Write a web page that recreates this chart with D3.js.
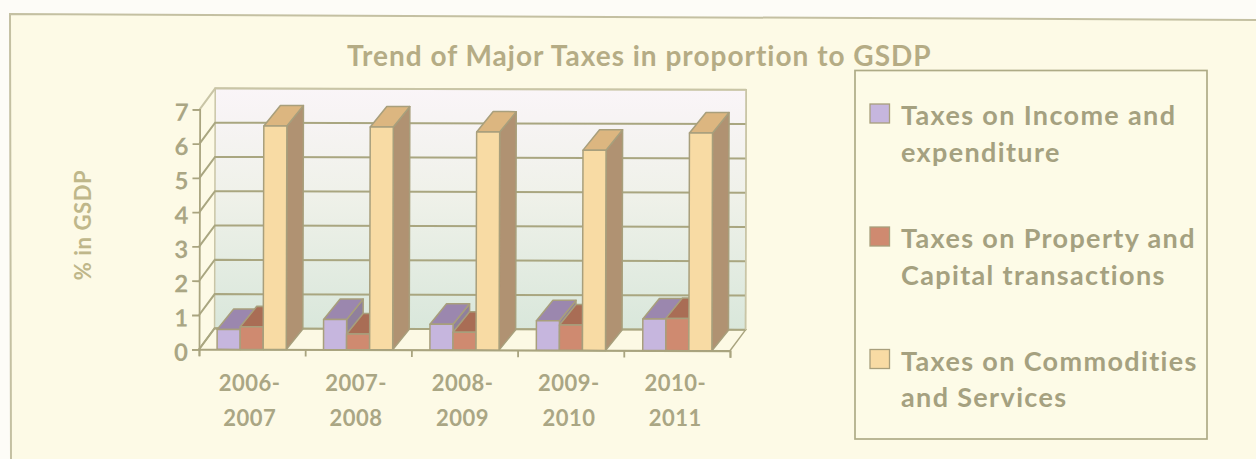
<!DOCTYPE html>
<html>
<head>
<meta charset="utf-8">
<title>Trend of Major Taxes in proportion to GSDP</title>
<script src="https://cdn.jsdelivr.net/npm/d3@7"></script>
<style>
  html, body { margin: 0; padding: 0; background: #fdfcf7; }
  svg { display: block; }
  text { font-family: Lato, "Open Sans", sans-serif; font-weight: 700; fill: #aaa684; }
</style>
</head>
<body>
<svg id="chart" width="1256" height="459"></svg>
<script>
// Share of GSDP by tax head, per financial year
const years = ["2006-2007", "2007-2008", "2008-2009", "2009-2010", "2010-2011"];
const seriesNames = ["income", "property", "commodities"];
const incomeTaxes = [0.58, 0.88, 0.75, 0.86, 0.92];
const propertyTaxes = [0.66, 0.46, 0.52, 0.74, 0.94];
const commodityTaxes = [6.52, 6.50, 6.36, 5.84, 6.35];
const yTicks = [0, 1, 2, 3, 4, 5, 6, 7];

const legendLines = [
  ["Taxes on Income and", "expenditure"],
  ["Taxes on Property and", "Capital transactions"],
  ["Taxes on Commodities", "and Services"]
];
const faces = [
  { front: "#c6b6de", top: "#9b87ae", side: "#90809c" },
  { front: "#cf8a70", top: "#a96d55", side: "#a5705a" },
  { front: "#f8dba4", top: "#dcb680", side: "#b09272" }
];

const ink = "#a9a47f";
const svg = d3.select("#chart");

// Sheet background with its slightly skewed frame
svg.append("path")
  .attr("d", "M10,14 L1257,20 L1257,460 L11,460 Z")
  .attr("fill", "#fdfae6")
  .attr("stroke", "#c4c0a2")
  .attr("stroke-width", 2);

// Wall gradient behind the gridlines
const grad = svg.append("defs").append("linearGradient")
  .attr("id", "wall").attr("x1", 0).attr("y1", 0).attr("x2", 0).attr("y2", 1);
grad.append("stop").attr("offset", "0%").attr("stop-color", "#faf5f8");
grad.append("stop").attr("offset", "45%").attr("stop-color", "#eff1e9");
grad.append("stop").attr("offset", "100%").attr("stop-color", "#d9e7db");

const frontLeft = 199, frontRight = 730, baseY = 349.3, topY = 109.3;
const wallDx = 15.5, wallDy = 21, barDx = 16.5, barDy = 20.5;

const y = d3.scaleLinear().domain([0, 7]).range([baseY, topY]);
const x = d3.scaleBand().domain(years).range([frontLeft, frontRight]).paddingInner(0.35).paddingOuter(0.17);
const xSeries = d3.scaleBand().domain(seriesNames).range([0, x.bandwidth()]);
const xEdges = d3.scaleLinear().domain([0, years.length]).range([frontLeft, frontRight]);

const plot = svg.append("g").attr("transform", `rotate(0.16 ${frontLeft} ${baseY})`);

// Back wall, floor and gridlines
plot.append("rect")
  .attr("x", frontLeft + wallDx).attr("y", y(7) - wallDy)
  .attr("width", frontRight - frontLeft).attr("height", y(0) - y(7))
  .attr("fill", "url(#wall)").attr("stroke", "#c9c5a6").attr("stroke-width", 1.5);
plot.append("path")
  .attr("d", d3.line()([
    [frontLeft, y(0)], [frontRight, y(0)],
    [frontRight + wallDx, y(0) - wallDy], [frontLeft + wallDx, y(0) - wallDy]
  ]) + "Z")
  .attr("fill", "#fcf9e4").attr("stroke", ink).attr("stroke-width", 1.5);

const gridGroup = plot.append("g");
gridGroup.selectAll("path").data(yTicks).join("path")
  .attr("d", t => d3.line()([
    [frontLeft, y(t)],
    [frontLeft + wallDx, y(t) - wallDy],
    [frontRight + wallDx, y(t) - wallDy]
  ]))
  .attr("fill", "none")
  .attr("stroke", t => t === 7 ? "#c9c5a6" : "#a9a680")
  .attr("stroke-width", 2);
plot.append("line")
  .attr("x1", frontRight + wallDx).attr("x2", frontRight + wallDx)
  .attr("y1", y(7) - wallDy).attr("y2", y(0) - wallDy)
  .attr("stroke", "#c9c5a6").attr("stroke-width", 1.5);

// Extruded columns, painted left to right so nearer faces overlap
const seriesValues = [incomeTaxes, propertyTaxes, commodityTaxes];
const columns = years.flatMap((year, i) =>
  seriesNames.map((name, s) => ({ year, name, s, value: seriesValues[s][i] })));

const bar = plot.append("g").selectAll("g").data(columns).join("g")
  .attr("stroke", "#a89f7c").attr("stroke-width", 1.5).attr("stroke-linejoin", "round");
const barLeft = d => x(d.year) + xSeries(d.name);
const barRight = d => barLeft(d) + xSeries.bandwidth();

bar.append("path")
  .attr("fill", d => faces[d.s].side)
  .attr("d", d => d3.line()([
    [barRight(d), y(0)], [barRight(d) + barDx, y(0) - barDy],
    [barRight(d) + barDx, y(d.value) - barDy], [barRight(d), y(d.value)]
  ]) + "Z");
bar.append("path")
  .attr("fill", d => faces[d.s].top)
  .attr("d", d => d3.line()([
    [barLeft(d), y(d.value)], [barLeft(d) + barDx, y(d.value) - barDy],
    [barRight(d) + barDx, y(d.value) - barDy], [barRight(d), y(d.value)]
  ]) + "Z");
bar.append("rect")
  .attr("fill", d => faces[d.s].front)
  .attr("x", barLeft).attr("y", d => y(d.value))
  .attr("width", xSeries.bandwidth()).attr("height", d => y(0) - y(d.value));

// Axes
const yAxis = plot.append("g").attr("transform", `translate(${frontLeft},0)`)
  .call(d3.axisLeft(y).tickValues(yTicks).tickSize(7).tickPadding(4).tickFormat(d3.format("d")));
yAxis.selectAll("text").style("font-size", "24px").attr("dy", "0.46em");
const xAxis = plot.append("g").attr("transform", `translate(0,${baseY})`)
  .call(d3.axisBottom(xEdges).ticks(years.length).tickSize(7).tickFormat(""));
[yAxis, xAxis].forEach(a => {
  a.selectAll("path.domain, line").attr("stroke", ink).attr("stroke-width", 1.8);
});

// Year labels on two lines, broken after the hyphen
const yearLabels = svg.append("g").selectAll("text").data(years).join("text")
  .attr("text-anchor", "middle")
  .style("font-size", "22px").style("letter-spacing", "0.5px");
yearLabels.append("tspan")
  .attr("x", d => x(d) + x.bandwidth() / 2 - 2).attr("y", 391)
  .text(d => d.slice(0, 5));
yearLabels.append("tspan")
  .attr("x", d => x(d) + x.bandwidth() / 2 - 2).attr("y", 426)
  .text(d => d.slice(5));

svg.append("text")
  .attr("transform", "translate(91,225) rotate(-90)")
  .attr("text-anchor", "middle")
  .style("font-size", "22px").style("letter-spacing", "0.6px")
  .style("fill", "#bfb78a")
  .text("% in GSDP");

svg.append("text")
  .attr("x", 347).attr("y", 66)
  .style("font-size", "28px").style("letter-spacing", "1px")
  .style("fill", "#b5ac85")
  .text("Trend of Major Taxes in proportion to GSDP");

// Legend
svg.append("rect")
  .attr("x", 855).attr("y", 70.5).attr("width", 352).attr("height", 368.5)
  .attr("fill", "#fefbe8").attr("fill-opacity", 0.6)
  .attr("stroke", "#aeab86").attr("stroke-width", 1.7);

const legendRowTop = [104, 227, 349.5];
const legendRow = svg.append("g").selectAll("g").data(legendLines).join("g")
  .attr("transform", (d, i) => `translate(0,${legendRowTop[i]})`);
legendRow.append("rect")
  .attr("x", 870).attr("width", 19.5).attr("height", 19)
  .attr("fill", (d, i) => faces[i].front)
  .attr("stroke", "#a89f7c").attr("stroke-width", 1.3);
legendRow.selectAll("text").data(d => d).join("text")
  .attr("x", 901).attr("y", (d, i) => 21 + i * 36.7)
  .style("font-size", "27px").style("letter-spacing", "1.35px")
  .style("fill", "#a5a180")
  .text(d => d);
</script>
</body>
</html>
